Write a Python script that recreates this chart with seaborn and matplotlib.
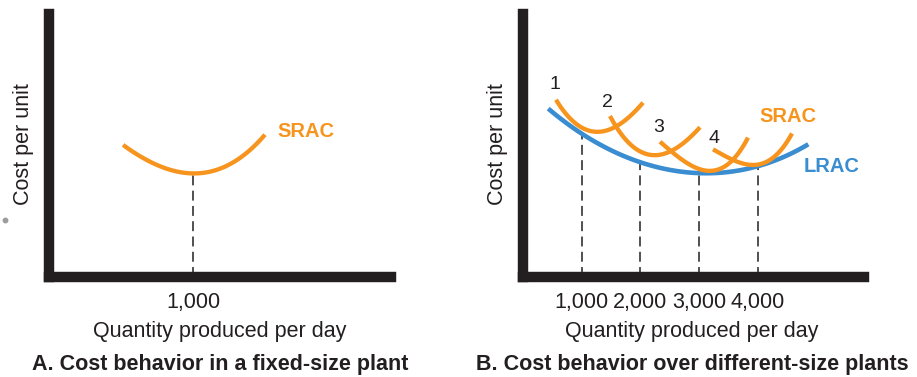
import numpy as np
import pandas as pd
import matplotlib
matplotlib.use("Agg")
import matplotlib.pyplot as plt
from matplotlib.lines import Line2D
import seaborn as sns

sns.set_style("white")
plt.rcParams["font.family"] = ["Liberation Sans", "DejaVu Sans"]

ORANGE = "#F7941D"
BLUE = "#3A8DD0"
INK = "#231F20"

# ---- Panel A: a single, fixed-size plant ----
srac_a_qty = [516, 654, 827, 1000, 1187, 1346, 1443, 1498]
srac_a_cost = [5.06, 4.45, 4.11, 3.99, 4.14, 4.56, 5.02, 5.48]
plant_a_size = [1000]
plant_a_labels = ["1,000"]

# ---- Panel B: four plant sizes and the long-run envelope ----
lrac_qty = [430, 970, 1430, 2000, 2560, 3020, 3480, 3990, 4430, 4860]
lrac_cost = [6.40, 5.50, 4.90, 4.35, 4.05, 3.95, 4.00, 4.20, 4.55, 5.05]

srac1_qty = [562, 715, 937, 1227, 1567, 1857, 2044]
srac1_cost = [6.84, 6.08, 5.78, 5.63, 5.70, 6.08, 6.69]
srac2_qty = [1482, 1601, 1823, 2112, 2334, 2675, 2896, 3015]
srac2_cost = [6.24, 5.51, 5.02, 4.75, 4.71, 4.94, 5.32, 5.78]
srac3_qty = [2334, 2504, 2794, 3135, 3475, 3697, 3833]
srac3_cost = [5.21, 4.71, 4.33, 4.14, 4.26, 4.64, 5.40]
srac4_qty = [3237, 3407, 3748, 3986, 4259, 4497, 4583]
srac4_cost = [4.90, 4.56, 4.33, 4.33, 4.52, 5.02, 5.55]

plant_b_sizes = [1000, 2000, 3000, 4000]
plant_b_labels = ["1,000", "2,000", "3,000", "4,000"]
plant_names = ["1", "2", "3", "4"]

srac_b = [(srac1_qty, srac1_cost), (srac2_qty, srac2_cost),
          (srac3_qty, srac3_cost), (srac4_qty, srac4_cost)]

# curve-label anchors (quantity, cost)
name_pos = [(545, 7.15), (1431, 6.46), (2317, 5.51), (3254, 5.10)]

FS = 15.5
W, H = 917, 377
fig = plt.figure(figsize=(W / 100, H / 100), dpi=100)
fig.patch.set_facecolor("white")


def px_axes(left, right, top, bottom):
    return fig.add_axes([left / W, 1 - bottom / H, (right - left) / W, (bottom - top) / H])


ax_a = px_axes(48.5, 391, 14, 277)
ax_b = px_axes(523, 864, 14, 277)

ax_a.set_xlim(0, (391 - 48.5) / 144.5 * 1000)
ax_b.set_xlim(0, (864 - 523) / 58.7 * 1000)
for ax in (ax_a, ax_b):
    ax.set_ylim(0, (277 - 14) / 26.3)
    ax.set_facecolor("white")
    sns.despine(ax=ax)
    for side in ("left", "bottom"):
        ax.spines[side].set_linewidth(7.5)
        ax.spines[side].set_color(INK)
        ax.spines[side].set_capstyle("projecting")
        ax.spines[side].set_zorder(5)
    ax.set_yticks([])
    ax.tick_params(axis="x", length=0, pad=10.5, labelsize=FS, labelcolor=INK)
    ax.set_xlabel("")
    ax.set_ylabel("")

curve_kw = dict(ci=None, scatter=False, truncate=True)
dash_kw = dict(colors=INK, linewidth=1.1, linestyles=(0, (6.5, 3.5)), zorder=1)

# Panel A
df_a = pd.DataFrame({"qty": srac_a_qty, "cost": srac_a_cost})
sns.regplot(data=df_a, x="qty", y="cost", order=3, ax=ax_a,
            line_kws=dict(color=ORANGE, lw=3.1, solid_capstyle="butt", zorder=3), **curve_kw)
ax_a.vlines(plant_a_size, 0, np.interp(plant_a_size, srac_a_qty, srac_a_cost), **dash_kw)
ax_a.set_xticks(plant_a_size, plant_a_labels)
ax_a.text(1782, 5.32, "SRAC", color=ORANGE, fontsize=14.5, fontweight="bold",
          ha="center", va="baseline")
ax_a.set_xlabel("")
ax_a.set_ylabel("")

# Panel B
df_l = pd.DataFrame({"qty": lrac_qty, "cost": lrac_cost})
sns.regplot(data=df_l, x="qty", y="cost", order=4, ax=ax_b,
            line_kws=dict(color=BLUE, lw=3.3, solid_capstyle="butt", zorder=2), **curve_kw)
for (q, c) in srac_b:
    df = pd.DataFrame({"qty": q, "cost": c})
    sns.regplot(data=df, x="qty", y="cost", order=3, ax=ax_b,
                line_kws=dict(color=ORANGE, lw=3.1, solid_capstyle="butt", zorder=3), **curve_kw)
ax_b.vlines(plant_b_sizes, 0, np.interp(plant_b_sizes, lrac_qty, lrac_cost), **dash_kw)
ax_b.set_xticks(plant_b_sizes, plant_b_labels)
for name, (q, c) in zip(plant_names, name_pos):
    ax_b.text(q, c, name, color=INK, fontsize=14, ha="center", va="baseline")
ax_b.text(4514, 5.89, "SRAC", color=ORANGE, fontsize=14.5, fontweight="bold",
          ha="center", va="baseline")
ax_b.text(5264, 3.99, "LRAC", color=BLUE, fontsize=14.5, fontweight="bold",
          ha="center", va="baseline")
ax_b.set_xlabel("")
ax_b.set_ylabel("")

# Axis titles and panel captions
for cx, yx, title in ((220, 23, "A. Cost behavior in a fixed-size plant"),
                      (692, 497, "B. Cost behavior over different-size plants")):
    fig.text(cx / W, 1 - 337 / H, "Quantity produced per day", fontsize=FS,
             color=INK, ha="center", va="baseline")
    fig.text(cx / W, 1 - 370 / H, title, fontsize=FS, fontweight="bold",
             color=INK, ha="center", va="baseline")
    fig.text(yx / W, 1 - 144 / H, "Cost per unit", fontsize=FS, color=INK,
             rotation=90, ha="center", va="center")

fig.add_artist(Line2D([5 / W], [1 - 220 / H], marker="o", ms=3.2, color="#9c9c9c",
                      linestyle="none", transform=fig.transFigure))

fig.savefig("out.png", dpi=100, facecolor="white")
